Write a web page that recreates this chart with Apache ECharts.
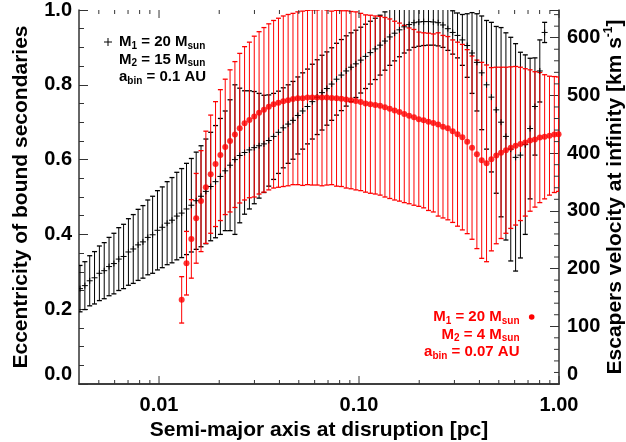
<!DOCTYPE html>
<html><head><meta charset="utf-8">
<script src="https://cdn.jsdelivr.net/npm/echarts@6/dist/echarts.min.js"></script>
<style>html,body{margin:0;padding:0;background:#fff}#c{width:626px;height:442px}</style>
</head><body><div id="c"></div>
<script>
// ---- data (semi-major axis in pc, eccentricity, 1-sigma spread) ----
const blackA = [0.004027,0.004258,0.004502,0.004760,0.005033,0.005321,0.005626,0.005949,0.006290,0.006650,
0.007031,0.007434,0.007860,0.008311,0.008787,0.009290,0.009822,0.01038,0.01098,0.01161,
0.01227,0.01298,0.01372,0.01451,0.01534,0.01622,0.01715,0.01813,0.01917,0.02027,
0.02143,0.02266,0.02396,0.02533,0.02678,0.02831,0.02994,0.03165,0.03347,0.03538,
0.03741,0.03956,0.04182,0.04422,0.04675,0.04943,0.05227,0.05526,0.05843,0.06178,
0.06531,0.06906,0.07301,0.07720,0.08162,0.08630,0.09124,0.09647,0.1020,0.1078,
0.1140,0.1206,0.1275,0.1348,0.1425,0.1507,0.1593,0.1684,0.1781,0.1883,
0.1991,0.2105,0.2225,0.2353,0.2488,0.2630,0.2781,0.2940,0.3109,0.3287,
0.3475,0.3674,0.3885,0.4107,0.4343,0.4592,0.4855,0.5133,0.5427,0.5738,
0.6067,0.6414,0.6782,0.7170,0.7581,0.8017,0.8476];
const blackEcc = [0.255,0.263,0.276,0.284,0.296,0.303,0.314,0.322,0.334,0.341,
0.353,0.361,0.372,0.380,0.392,0.399,0.411,0.419,0.430,0.438,
0.449,0.457,0.468,0.478,0.490,0.502,0.515,0.528,0.541,0.555,
0.570,0.585,0.600,0.611,0.619,0.626,0.632,0.637,0.642,0.651,
0.662,0.673,0.685,0.695,0.705,0.718,0.730,0.742,0.755,0.767,
0.779,0.790,0.802,0.815,0.826,0.837,0.847,0.856,0.866,0.876,
0.886,0.896,0.906,0.917,0.928,0.938,0.947,0.955,0.961,0.966,
0.968,0.969,0.969,0.968,0.966,0.960,0.950,0.940,0.932,0.920,
0.905,0.885,0.860,0.832,0.800,0.767,0.733,0.700,0.662,0.628,
0.606,0.612,0.640,0.683,0.742,0.837,0.940];
const blackErr = [0.062,0.064,0.067,0.070,0.073,0.075,0.078,0.081,0.084,0.086,
0.089,0.092,0.095,0.097,0.100,0.103,0.106,0.108,0.111,0.114,
0.117,0.119,0.122,0.125,0.130,0.135,0.140,0.145,0.150,0.155,
0.160,0.175,0.200,0.180,0.165,0.158,0.150,0.140,0.130,0.122,
0.115,0.110,0.107,0.105,0.104,0.103,0.102,0.100,0.100,0.100,
0.100,0.098,0.097,0.096,0.095,0.094,0.092,0.090,0.088,0.086,
0.084,0.082,0.080,0.078,0.076,0.074,0.072,0.070,0.068,0.066,
0.065,0.064,0.063,0.062,0.062,0.060,0.058,0.058,0.060,0.068,
0.085,0.108,0.130,0.152,0.172,0.200,0.223,0.253,0.277,0.299,
0.304,0.275,0.240,0.188,0.130,0.083,0.027];

const redA = [0.01298,0.01372,0.01451,0.01534,0.01622,0.01715,0.01813,0.01917,0.02027,
0.02143,0.02266,0.02396,0.02533,0.02678,0.02831,0.02994,0.03165,0.03347,0.03538,
0.03741,0.03956,0.04182,0.04422,0.04675,0.04943,0.05227,0.05526,0.05843,0.06178,
0.06531,0.06906,0.07301,0.07720,0.08162,0.08630,0.09124,0.09647,0.1020,0.1078,
0.1140,0.1206,0.1275,0.1348,0.1425,0.1507,0.1593,0.1684,0.1781,0.1883,
0.1991,0.2105,0.2225,0.2353,0.2488,0.2630,0.2781,0.2940,0.3109,0.3287,
0.3475,0.3674,0.3885,0.4107,0.4343,0.4592,0.4855,0.5133,0.5427,0.5738,
0.6067,0.6414,0.6782,0.7170,0.7581,0.8017,0.8476,0.8962,0.9476,0.995];
const redEcc = [0.225,0.323,0.388,0.443,0.489,0.526,0.561,0.588,0.612,0.634,
0.650,0.667,0.684,0.697,0.706,0.715,0.725,0.733,0.741,0.748,
0.752,0.756,0.759,0.762,0.764,0.764,0.766,0.766,0.766,0.766,
0.766,0.765,0.764,0.763,0.761,0.759,0.757,0.754,0.750,0.748,
0.746,0.744,0.740,0.736,0.731,0.727,0.722,0.717,0.713,0.708,
0.705,0.701,0.698,0.694,0.688,0.684,0.676,0.668,0.660,0.648,
0.632,0.614,0.598,0.590,0.601,0.611,0.618,0.625,0.632,0.637,
0.642,0.646,0.651,0.654,0.659,0.661,0.664,0.667,0.668];
const redErr = [0.062,0.085,0.105,0.120,0.135,0.150,0.158,0.167,0.175,0.181,
0.190,0.195,0.200,0.205,0.208,0.215,0.217,0.220,0.222,0.224,
0.226,0.228,0.229,0.229,0.231,0.233,0.233,0.234,0.234,0.236,
0.234,0.232,0.235,0.235,0.237,0.237,0.238,0.237,0.237,0.238,
0.238,0.239,0.240,0.240,0.239,0.238,0.237,0.235,0.235,0.233,
0.234,0.237,0.238,0.245,0.244,0.245,0.244,0.246,0.248,0.246,
0.245,0.252,0.262,0.263,0.245,0.236,0.229,0.222,0.216,0.212,
0.205,0.197,0.189,0.181,0.174,0.166,0.159,0.155,0.153];

// ---- axis ticks ----
const xMajorTicks = [0.01, 0.1, 1];
const xMinorTicks = [0.005,0.006,0.007,0.008,0.009,0.02,0.03,0.04,0.05,0.06,0.07,0.08,0.09,0.2,0.3,0.4,0.5,0.6,0.7,0.8,0.9];
const xTickLabels = {'0.01':'0.01','0.1':'0.10','1':'1.00'};
const rightMinorTicks = [20,40,60,80,120,140,160,180,220,240,260,280,320,340,360,380,420,440,460,480,520,540,560,580,620,640];

const FONT = "'Liberation Sans', Arial, Helvetica, sans-serif";
const AXIS = '#333';
const X_MIN = 0.00398, X_MAX = 1.0, VEL_MAX = 648;

const chart = echarts.init(document.getElementById('c'), null, {renderer:'canvas'});

function errRows(a, e, s){ return a.map((x,i)=>[x, e[i]-s[i], e[i]+s[i], e[i]]); }
function errBar(color, capHalf){
  return function(params, api){
    const x = api.value(0);
    const p1 = api.coord([x, api.value(1)]);
    const p2 = api.coord([x, api.value(2)]);
    const st = {stroke: color, lineWidth: 1};
    return {type:'group', children:[
      {type:'line', shape:{x1:p1[0],y1:p1[1],x2:p2[0],y2:p2[1]}, style:st},
      {type:'line', shape:{x1:p1[0]-capHalf,y1:p1[1],x2:p1[0]+capHalf,y2:p1[1]}, style:{stroke:color,lineWidth:1.3}},
      {type:'line', shape:{x1:p2[0]-capHalf,y1:p2[1],x2:p2[0]+capHalf,y2:p2[1]}, style:{stroke:color,lineWidth:1.3}}
    ]};
  };
}
function plusMark(params, api){
  const p = api.coord([api.value(0), api.value(3)]);
  const st = {stroke:'#000', lineWidth:1};
  return {type:'group', children:[
    {type:'line', shape:{x1:p[0]-3,y1:p[1],x2:p[0]+3,y2:p[1]}, style:st},
    {type:'line', shape:{x1:p[0],y1:p[1]-3,x2:p[0],y2:p[1]+3}, style:st}
  ]};
}
function xTick(params, api){
  const v = api.value(0), len = api.value(1);
  const b = api.coord([v, 0]), t = api.coord([v, 1]);
  const st = {stroke:AXIS, lineWidth:1};
  return {type:'group', children:[
    {type:'line', shape:{x1:b[0],y1:b[1],x2:b[0],y2:b[1]-len}, style:st},
    {type:'line', shape:{x1:t[0],y1:t[1],x2:t[0],y2:t[1]+len}, style:st}
  ]};
}
function rTick(params, api){
  const p = api.coord([X_MAX, api.value(0)]);
  return {type:'line', shape:{x1:p[0],y1:p[1],x2:p[0]-5,y2:p[1]}, style:{stroke:AXIS,lineWidth:1}};
}

const tickData = xMajorTicks.map(v=>[v,8]).concat(xMinorTicks.map(v=>[v,4]));
const labelStyle = {fontSize:20, fontWeight:'bold', color:'#000', fontFamily:FONT};
const nameStyle = {fontSize:21, fontWeight:'bold', color:'#000', fontFamily:FONT};

const legRich = (color)=>({
  m:{fontSize:15, fontWeight:'bold', fontFamily:FONT, color:color, lineHeight:18},
  s:{fontSize:10, fontWeight:'bold', fontFamily:FONT, color:color, lineHeight:10, verticalAlign:'bottom'}
});
function legText(x, y, text, color, align){
  return {type:'text', x:x, y:y, z:100, style:{text:text, rich:legRich(color), align:align, verticalAlign:'middle', fill:color}};
}

const option = {
  animation:false,
  backgroundColor:'#fff',
  grid:{left:79, right:67, top:10, bottom:58, containLabel:false, outerBoundsMode:'none'},
  xAxis:[
    {type:'log', logBase:10, min:X_MIN, max:X_MAX, position:'bottom',
     axisLine:{show:true, lineStyle:{color:AXIS, width:1.5}},
     axisTick:{show:false}, minorTick:{show:false}, splitLine:{show:false},
     axisLabel:Object.assign({margin:11, showMinLabel:false, formatter:function(v){
        const k = String(+(+v).toPrecision(3)); return xTickLabels[k] || ''; }}, labelStyle),
     name:'Semi-major axis at disruption [pc]', nameLocation:'middle', nameGap:33, nameTextStyle:nameStyle},
    {type:'log', logBase:10, min:X_MIN, max:X_MAX, position:'top',
     axisLine:{show:true, lineStyle:{color:AXIS, width:1.5}},
     axisTick:{show:false}, axisLabel:{show:false}, splitLine:{show:false}}
  ],
  yAxis:[
    {type:'value', min:0, max:1, interval:0.2, position:'left',
     axisLine:{show:true, lineStyle:{color:AXIS, width:1.5}},
     axisTick:{show:true, inside:true, length:9, lineStyle:{color:AXIS}},
     minorTick:{show:true, splitNumber:4, length:5, lineStyle:{color:AXIS}},
     splitLine:{show:false},
     axisLabel:Object.assign({margin:7, verticalAlignMinLabel:'bottom', formatter:v=>(+v).toFixed(1)}, labelStyle),
     name:'Eccentricity of bound secondaries', nameLocation:'middle', nameGap:47, nameTextStyle:nameStyle},
    {type:'value', min:0, max:VEL_MAX, interval:100, position:'right',
     axisLine:{show:true, lineStyle:{color:AXIS, width:1.5}},
     axisTick:{show:true, inside:true, length:9, lineStyle:{color:AXIS}},
     splitLine:{show:false},
     axisLabel:Object.assign({margin:8, verticalAlignMinLabel:'bottom', formatter:v=>(v%100===0? String(v):'')}, labelStyle),
     name:'Escapers velocity at infinity [km s{sup|-1}]', nameLocation:'middle', nameGap:44, nameMoveOverlap:false,
     nameTextStyle:Object.assign({lineHeight:24, rich:{sup:{fontSize:12, fontWeight:'bold', fontFamily:FONT, color:'#000', lineHeight:12, verticalAlign:'top'}}}, nameStyle)}
  ],
  series:[
    {type:'custom', name:'blackBars', xAxisIndex:0, yAxisIndex:0, clip:true, z:2,
     renderItem:errBar('#000', 2.5), data:errRows(blackA, blackEcc, blackErr)},
    {type:'custom', name:'redBars', xAxisIndex:0, yAxisIndex:0, clip:true, z:3,
     renderItem:errBar('#ff0000', 2.5), data:errRows(redA, redEcc, redErr)},
    {type:'custom', name:'blackPlus', xAxisIndex:0, yAxisIndex:0, clip:true, z:4,
     renderItem:plusMark, data:errRows(blackA, blackEcc, blackErr)},
    {type:'scatter', name:'redDots', xAxisIndex:0, yAxisIndex:0, z:5, symbol:'circle', symbolSize:6,
     itemStyle:{color:'#ff0000'}, data:redA.map((x,i)=>[x, redEcc[i]])},
    {type:'custom', name:'xTicks', xAxisIndex:0, yAxisIndex:0, z:6, silent:true,
     renderItem:xTick, data:tickData},
    {type:'custom', name:'rTicks', xAxisIndex:0, yAxisIndex:1, z:6, silent:true,
     renderItem:rTick, data:rightMinorTicks.map(v=>[v])}
  ],
  graphic:[
    {type:'group', z:100, children:[
      {type:'line', shape:{x1:104,y1:42,x2:112,y2:42}, style:{stroke:'#000',lineWidth:1}},
      {type:'line', shape:{x1:108,y1:38,x2:108,y2:46}, style:{stroke:'#000',lineWidth:1}}
    ]},
    legText(119, 42, '{m|M}{s|1}{m| = 20 M}{s|sun}', '#000', 'left'),
    legText(119, 59.5, '{m|M}{s|2}{m| = 15 M}{s|sun}', '#000', 'left'),
    legText(119, 77, '{m|a}{s|bin}{m| = 0.1 AU}', '#000', 'left'),
    {type:'circle', z:100, shape:{cx:531.7, cy:317, r:2.8}, style:{fill:'#ff0000'}},
    legText(519.5, 317, '{m|M}{s|1}{m| = 20 M}{s|sun}', '#ff0000', 'right'),
    legText(519.5, 334.5, '{m|M}{s|2}{m| = 4 M}{s|sun}', '#ff0000', 'right'),
    legText(519.5, 352, '{m|a}{s|bin}{m| = 0.07 AU}', '#ff0000', 'right')
  ]
};
chart.setOption(option);
</script></body></html>
